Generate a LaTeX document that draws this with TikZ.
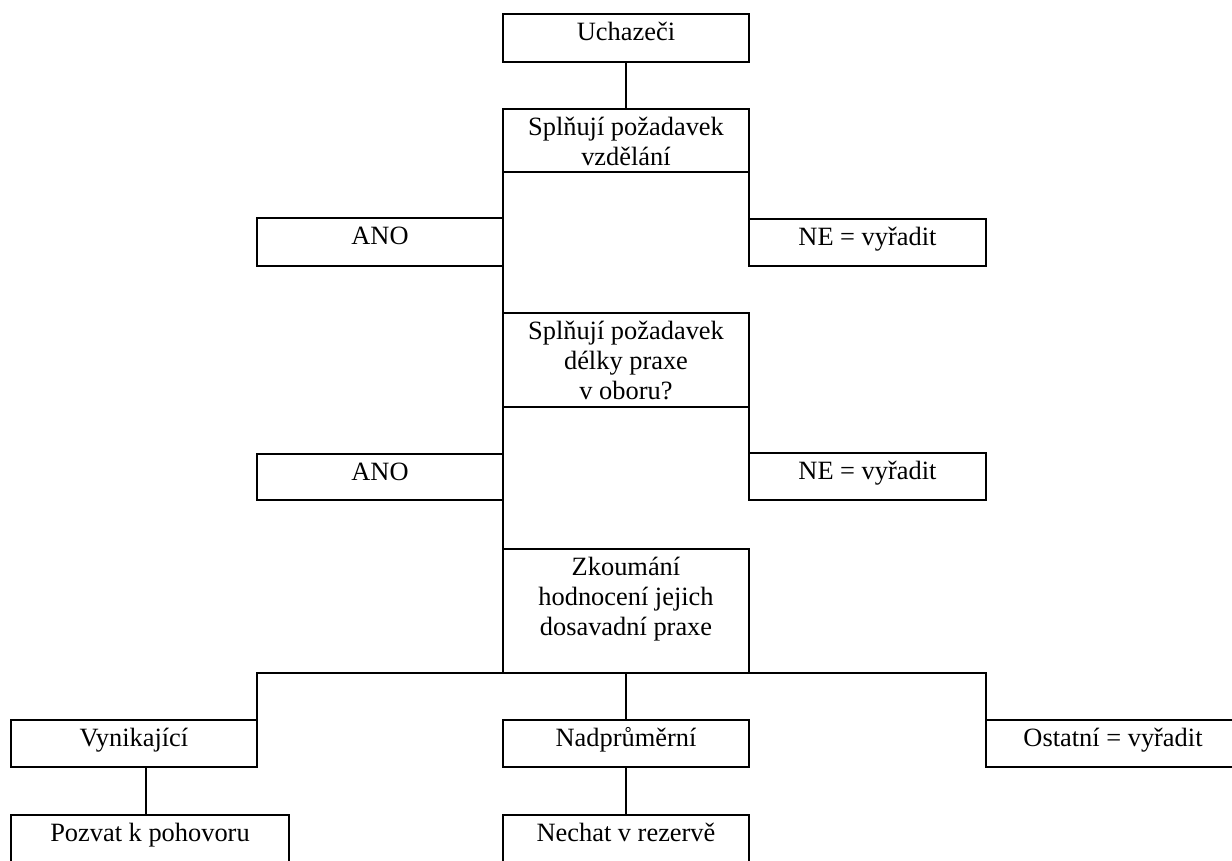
\documentclass[tikz,border=0pt]{standalone}
\usepackage{fontspec}
\setmainfont{Liberation Serif}
% Box content: fixed width and height, text set from the top, centred
\newcommand\boxtext[3]{\parbox[c][#2pt][t]{#1pt}{\centering\rule{0pt}{26.5pt}#3}}
\tikzset{
  box/.style={draw, line width=2pt, inner sep=0pt, outer sep=0pt,
    anchor=north west, font=\fontsize{26.4}{30}\selectfont},
  link/.style={line width=2pt, line cap=rect}
}
\begin{document}
\begin{tikzpicture}[x=1pt,y=-1pt]
\useasboundingbox (0,0) rectangle (1232,860);

% decision column
\node[box] (uch)  at (503,14)  {\boxtext{246}{48}{Uchazeči}};
\node[box] (spl1) at (503,109) {\boxtext{246}{63}{Splňují požadavek\\vzdělání}};
\node[box] (ano1) at (257,218) {\boxtext{246}{48}{ANO}};
\node[box] (ne1)  at (749,219) {\boxtext{237}{47}{NE = vyřadit}};
\node[box] (spl2) at (503,313) {\boxtext{246}{94}{Splňují požadavek\\délky praxe\\v oboru?}};
\node[box] (ano2) at (257,454) {\boxtext{246}{46}{ANO}};
\node[box] (ne2)  at (749,453) {\boxtext{237}{47}{NE = vyřadit}};
\node[box] (zko)  at (503,549) {\boxtext{246}{124}{Zkoumání\\hodnocení jejich\\dosavadní praxe}};

% outcome row
\node[box] (vyn)  at (11,720)  {\boxtext{246}{47}{Vynikající}};
\node[box] (nad)  at (503,720) {\boxtext{246}{47}{Nadprůměrní}};
\node[box] (ost)  at (986,720) {\boxtext{254}{47}{Ostatní = vyřadit}};
\node[box] (poz)  at (11,815)  {\boxtext{278}{50}{Pozvat k pohovoru}};
\node[box] (nec)  at (503,815) {\boxtext{246}{50}{Nechat v rezervě}};

% connectors
\draw[link] (uch.south) -- (spl1.north);
\draw[link] (spl1.south west) -- (spl2.north west);
\draw[link] (spl1.south east) -- (ne1.north west);
\draw[link] (spl2.south west) -- (zko.north west);
\draw[link] (spl2.south east) -- (ne2.north west);
\draw[link] (vyn.north east) |- (zko.south) -| (ost.north west);
\draw[link] (zko.south) -- (nad.north);
\draw[link] ([xshift=12pt]vyn.south) -- ([xshift=12pt]vyn.south |- poz.north);
\draw[link] (nad.south) -- (nec.north);
\end{tikzpicture}
\end{document}
